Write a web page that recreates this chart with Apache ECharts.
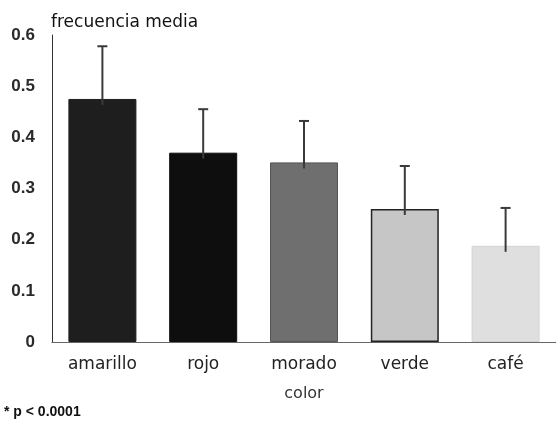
<!DOCTYPE html>
<html>
<head>
<meta charset="utf-8">
<script src="https://cdn.jsdelivr.net/npm/echarts@6/dist/echarts.min.js"></script>
<style>
  html, body { margin: 0; padding: 0; background: #ffffff; }
  #chart { width: 556px; height: 421px; }
</style>
</head>
<body>
<div id="chart"></div>
<script>
// Mean frequency by colour, with upper error bar ends
const categories = ['amarillo', 'rojo', 'morado', 'verde', 'café'];
const means = [0.475, 0.370, 0.351, 0.260, 0.188];
const upperErrors = [0.578, 0.455, 0.432, 0.344, 0.262];
const yTicks = [0, 0.1, 0.2, 0.3, 0.4, 0.5, 0.6];

// Grey shades for each bar (dark to light)
const barFills = ['#1e1e1e', '#0e0e0e', '#6f6f6f', '#c6c6c6', '#dfdfdf'];
const barBorders = ['#1e1e1e', '#0e0e0e', '#555555', '#222222', '#d4d4d4'];

const chart = echarts.init(document.getElementById('chart'), null, { renderer: 'canvas' });

const barData = means.map((v, i) => ({
  value: v,
  itemStyle: {
    color: barFills[i],
    borderColor: barBorders[i],
    borderWidth: i === 3 ? 1.5 : 1
  }
}));

const errData = categories.map((c, i) => [i, means[i], upperErrors[i]]);

chart.setOption({
  animation: false,
  backgroundColor: '#ffffff',
  grid: { left: 52, right: -5, top: 35, bottom: 79, containLabel: false },
  xAxis: {
    type: 'category',
    data: categories,
    axisTick: { show: false },
    axisLine: { lineStyle: { color: '#666', width: 1 } },
    axisLabel: {
      margin: 14,
      fontFamily: 'DejaVu Sans',
      fontSize: 17,
      color: '#222'
    },
    name: 'color',
    nameLocation: 'middle',
    nameGap: 44,
    nameTextStyle: { fontFamily: 'DejaVu Sans', fontSize: 16, color: '#333' }
  },
  yAxis: {
    type: 'value',
    min: yTicks[0],
    max: yTicks[yTicks.length - 1],
    interval: 0.1,
    axisLine: { show: true, lineStyle: { color: '#333', width: 1 } },
    axisTick: { show: false },
    splitLine: { show: false },
    axisLabel: {
      margin: 17,
      fontFamily: 'Liberation Sans',
      fontWeight: 'bold',
      fontSize: 17,
      color: '#2a2a2a',
      formatter: v => (v === 0 ? '0' : v.toFixed(1))
    },
    name: 'frecuencia media',
    nameLocation: 'end',
    nameGap: 4,
    nameTextStyle: {
      fontFamily: 'DejaVu Sans',
      fontSize: 17,
      color: '#111',
      align: 'left',
      padding: [0, 0, 0, -1]
    }
  },
  series: [
    {
      type: 'bar',
      data: barData,
      barWidth: 68
    },
    {
      type: 'custom',
      data: errData,
      z: 5,
      renderItem: function (params, api) {
        const x = api.coord([api.value(0), api.value(1)])[0];
        const yLow = api.coord([api.value(0), api.value(1)])[1];
        const yHigh = api.coord([api.value(0), api.value(2)])[1];
        const style = { stroke: '#3a3a3a', lineWidth: 2 };
        return {
          type: 'group',
          children: [
            { type: 'line', shape: { x1: x, y1: yLow + 6, x2: x, y2: yHigh }, style },
            { type: 'line', shape: { x1: x - 5, y1: yHigh, x2: x + 5, y2: yHigh }, style }
          ]
        };
      }
    }
  ],
  graphic: [
    {
      type: 'text',
      left: 4,
      top: 405,
      style: {
        text: '* p < 0.0001',
        fontFamily: 'Liberation Sans',
        fontWeight: 'bold',
        fontSize: 14,
        fill: '#111'
      }
    }
  ]
});
</script>
</body>
</html>
